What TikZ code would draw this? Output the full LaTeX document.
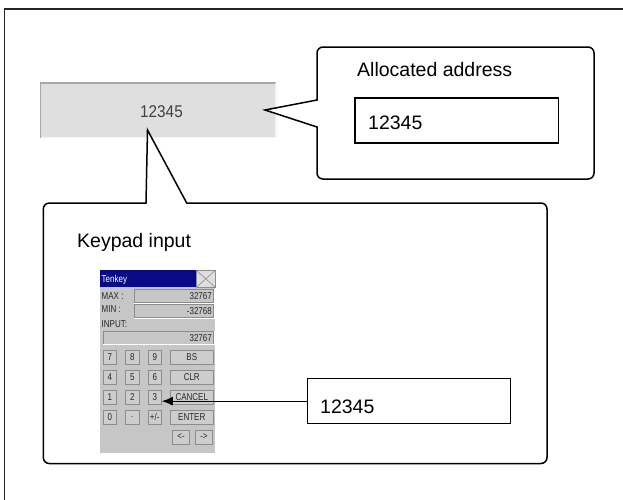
\documentclass[tikz,border=0pt]{standalone}
\usepackage{fontspec}
\setmainfont{Liberation Sans}
\newfontfamily\padfamily[FakeStretch=0.8]{Liberation Sans}
\newfontfamily\fieldfamily[FakeStretch=0.9]{Liberation Sans}
\usetikzlibrary{arrows.meta}
\definecolor{fieldgray}{HTML}{DFDFDF}
\definecolor{fielddark}{HTML}{A8A8A8}
\definecolor{fieldlight}{HTML}{F4F4F4}
\definecolor{padgray}{HTML}{C6C6C6}
\definecolor{keyfill}{HTML}{CDCDCD}
\definecolor{keyedge}{HTML}{8C8C8C}
\definecolor{navy}{HTML}{0A0A84}
\definecolor{padtext}{HTML}{282828}
\definecolor{fieldtext}{HTML}{404040}
\tikzset{
  callout/.style={draw=black, line width=1.5pt, fill=white, line join=miter},
  valbox/.style={draw=black, line width=1.3pt, fill=white, inner sep=0pt},
  bigtext/.style={font=\fontsize{19.5}{22}\selectfont, inner sep=0pt},
  padfont/.style={font=\padfamily\fontsize{10}{10}\selectfont, text=padtext, inner sep=0pt},
  key/.style={draw=keyedge, fill=keyfill, line width=0.6pt, minimum width=13.5pt, minimum height=14pt, inner sep=0pt, font=\padfamily\fontsize{10}{10}\selectfont, text=padtext},
  widekey/.style={key, minimum width=42.5pt},
  smallkey/.style={key, minimum width=17pt},
  padfield/.style={draw=keyedge, fill=padgray, line width=0.6pt, inner sep=0pt},
}
\begin{document}
\begin{tikzpicture}[x=1pt,y=-1pt]
\useasboundingbox (0,0) rectangle (623,499);
% outer frame (cut off at right and bottom)
\draw[line width=1.2pt, draw=black!85] (4.5,499.5) -- (4.5,9) -- (623.5,9);

% gray input field
\node[fill=fieldgray, minimum width=235pt, minimum height=54.5pt, inner sep=0pt, anchor=north west] (field) at (40.5,82.7) {};
\draw[fielddark, line width=1.6pt] (field.south west) -- (field.north west) -- (field.north east);
\draw[fieldlight, line width=1.6pt] (field.north east) -- (field.south east) -- (field.south west);
\node[font=\fieldfamily\fontsize{17}{18}\selectfont, text=fieldtext, inner sep=0pt, anchor=base] (fieldtext) at (161.5,117) {12345};

% top-right callout
\coordinate (tipA) at (265,110);
\draw[callout] (317,100) -- (tipA) -- (317,127) [rounded corners=6pt] -- (317,179) -- (594,179) -- (594,47) -- (317,47) [sharp corners] -- cycle;
\node[bigtext, anchor=base west] (alloclabel) at (357,76) {Allocated address};
\node[valbox, minimum width=203.4pt, minimum height=45pt, anchor=north west] (addrbox) at (354.3,97.3) {};
\node[bigtext, anchor=base west] (addrval) at (368,129) {12345};

% keypad callout
\coordinate (tipB) at (147.5,130);
\draw[callout] (146,203) -- (tipB) -- (186.7,203) [rounded corners=6pt] -- (547,203) -- (547,463.5) -- (43.3,463.5) -- (43.3,203) [sharp corners] -- cycle;
\node[bigtext, anchor=base west] (keylabel) at (77,247) {Keypad input};

% keypad picture
\node[fill=padgray, minimum width=115pt, minimum height=183pt, inner sep=0pt, anchor=north west] (pad) at (100,270) {};
\node[fill=navy, minimum width=96pt, minimum height=17pt, inner sep=0pt, anchor=north west] (title) at (100,270) {};
\node[font=\padfamily\fontsize{10}{10}\selectfont, text=white, inner sep=0pt, anchor=base west] (titletext) at (101.5,282.5) {Tenkey};
\node[draw=keyedge, fill=fieldgray, line width=0.6pt, minimum width=19pt, minimum height=17pt, inner sep=0pt, anchor=north west] (close) at (196,270) {};
\draw[keyedge, line width=0.6pt] (close.north west) -- (close.south east) (close.south west) -- (close.north east);

\node[padfont, anchor=base west] (maxl) at (101.5,299.5) {MAX :};
\node[padfield, minimum width=79pt, minimum height=13pt, anchor=north west] (maxf) at (134.3,289.3) {};
\node[padfont, anchor=base east] (maxv) at (212,299.5) {32767};
\node[padfont, anchor=base west] (minl) at (101.5,312.5) {MIN :};
\node[padfield, minimum width=79pt, minimum height=13pt, anchor=north west] (minf) at (134.3,304.3) {};
\node[padfont, anchor=base east] (minv) at (212,314.5) {-32768};
\node[padfont, anchor=base west] (inl) at (101.5,327.5) {INPUT:};
\node[padfield, minimum width=110.5pt, minimum height=13pt, anchor=north west] (inf) at (102.8,331) {};
\node[padfont, anchor=base east] (inv) at (212,341.5) {32767};
\draw[white, line width=0.8pt] (maxf.north east) -- (maxf.south east) -- (maxf.south west)
  (minf.north east) -- (minf.south east) -- (minf.south west)
  (inf.north east) -- (inf.south east) -- (inf.south west);

% keys
\node[key] (k7) at (109.75,357) {7};
\node[key] (k8) at (132.25,357) {8};
\node[key] (k9) at (154.75,357) {9};
\node[widekey] (kbs) at (191.75,357) {BS};
\node[key] (k4) at (109.75,377) {4};
\node[key] (k5) at (132.25,377) {5};
\node[key] (k6) at (154.75,377) {6};
\node[widekey] (kclr) at (191.75,377) {CLR};
\node[key] (k1) at (109.75,397) {1};
\node[key] (k2) at (132.25,397) {2};
\node[key] (k3) at (154.75,397) {3};
\node[widekey] (kcancel) at (191.75,397) {CANCEL};
\node[key] (k0) at (109.75,417) {0};
\node[key] (kdot) at (132.25,417) {.};
\node[key] (kpm) at (154.75,417) {+/-};
\node[widekey] (kenter) at (191.75,417) {ENTER};
\node[smallkey] (kleft) at (181,437) {<-};
\node[smallkey] (kright) at (204,437) {->};

% value box with arrow
\node[valbox, minimum width=203.3pt, minimum height=45pt, anchor=north west] (inbox) at (306.7,378) {};
\node[bigtext, anchor=base west] (inval) at (320,413) {12345};
\draw[line width=1.3pt, -{Latex[length=11pt,width=9pt]}] (inbox.west) -- (k3.east |- inbox.west);
\end{tikzpicture}
\end{document}
